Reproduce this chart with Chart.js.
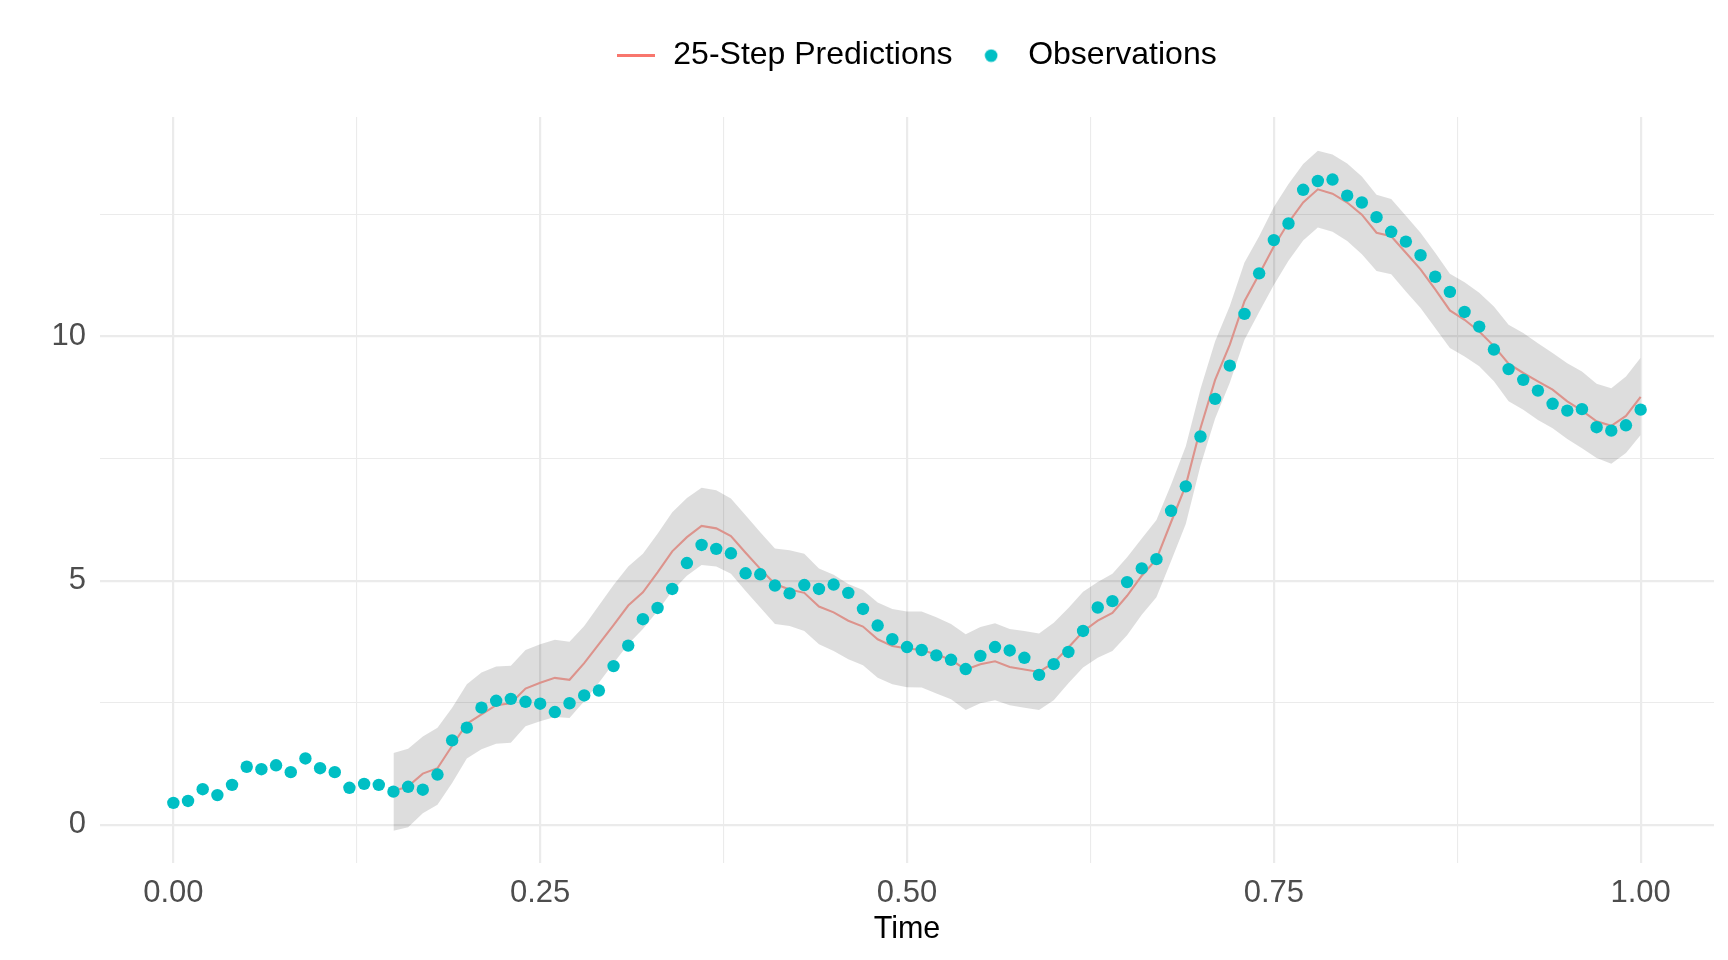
<!DOCTYPE html>
<html>
<head>
<meta charset="utf-8">
<script src="https://cdn.jsdelivr.net/npm/chart.js@4.4.1/dist/chart.umd.min.js"></script>
<style>
  html, body { margin: 0; padding: 0; background: #ffffff; }
  #wrap { width: 1728px; height: 960px; position: relative; }
</style>
</head>
<body>
<div id="wrap"><canvas id="chart" width="1728" height="960"></canvas></div>
<script>
// ---------- data ----------
const obsTime = [
  0.00, 0.01, 0.02, 0.03, 0.04, 0.05, 0.06, 0.07, 0.08, 0.09,
  0.10, 0.11, 0.12, 0.13, 0.14, 0.15, 0.16, 0.17, 0.18, 0.19,
  0.20, 0.21, 0.22, 0.23, 0.24, 0.25, 0.26, 0.27, 0.28, 0.29,
  0.30, 0.31, 0.32, 0.33, 0.34, 0.35, 0.36, 0.37, 0.38, 0.39,
  0.40, 0.41, 0.42, 0.43, 0.44, 0.45, 0.46, 0.47, 0.48, 0.49,
  0.50, 0.51, 0.52, 0.53, 0.54, 0.55, 0.56, 0.57, 0.58, 0.59,
  0.60, 0.61, 0.62, 0.63, 0.64, 0.65, 0.66, 0.67, 0.68, 0.69,
  0.70, 0.71, 0.72, 0.73, 0.74, 0.75, 0.76, 0.77, 0.78, 0.79,
  0.80, 0.81, 0.82, 0.83, 0.84, 0.85, 0.86, 0.87, 0.88, 0.89,
  0.90, 0.91, 0.92, 0.93, 0.94, 0.95, 0.96, 0.97, 0.98, 0.99,
  1.00
];

const observations = [
  0.45, 0.49, 0.73, 0.61, 0.82, 1.19, 1.14, 1.22, 1.08, 1.36,
  1.16, 1.08, 0.76, 0.84, 0.82, 0.68, 0.78, 0.72, 1.03, 1.73,
  1.99, 2.40, 2.54, 2.58, 2.52, 2.48, 2.31, 2.49, 2.65, 2.75,
  3.25, 3.67, 4.21, 4.44, 4.83, 5.36, 5.73, 5.65, 5.56, 5.15,
  5.13, 4.90, 4.74, 4.91, 4.83, 4.92, 4.75, 4.42, 4.08, 3.80,
  3.64, 3.58, 3.47, 3.38, 3.19, 3.46, 3.64, 3.57, 3.42, 3.07,
  3.29, 3.54, 3.97, 4.45, 4.58, 4.97, 5.25, 5.44, 6.43, 6.93,
  7.95, 8.72, 9.40, 10.46, 11.29, 11.97, 12.31, 13.00, 13.18, 13.21,
  12.88, 12.74, 12.44, 12.14, 11.94, 11.66, 11.22, 10.91, 10.50, 10.20,
  9.73, 9.33, 9.11, 8.89, 8.62, 8.48, 8.51, 8.14, 8.07, 8.18,
  8.50
];

// predictions start at t = 0.15
const predTime = obsTime.slice(15);

const predictions = [
  0.69, 0.79, 1.05, 1.16, 1.62,
  2.07, 2.26, 2.45, 2.49, 2.79, 2.91, 3.01, 2.97, 3.31, 3.70,
  4.09, 4.49, 4.76, 5.17, 5.60, 5.89, 6.12, 6.07, 5.91, 5.57,
  5.24, 4.93, 4.82, 4.75, 4.47, 4.35, 4.18, 4.06, 3.80, 3.66,
  3.61, 3.58, 3.49, 3.38, 3.18, 3.29, 3.35, 3.23, 3.18, 3.13,
  3.32, 3.63, 3.96, 4.18, 4.34, 4.69, 5.10, 5.44, 6.20, 6.95,
  8.12, 9.11, 9.83, 10.72, 11.27, 11.84, 12.33, 12.74, 13.01, 12.92,
  12.74, 12.49, 12.12, 12.05, 11.71, 11.37, 10.96, 10.53, 10.34, 10.10,
  9.80, 9.44, 9.25, 9.08, 8.91, 8.67, 8.48, 8.26, 8.17, 8.37,
  8.76
];

const bandUpper = [
  1.47, 1.56, 1.81, 1.99, 2.40,
  2.88, 3.12, 3.24, 3.26, 3.58, 3.70, 3.79, 3.75, 4.07, 4.49,
  4.91, 5.29, 5.55, 5.96, 6.40, 6.69, 6.90, 6.85, 6.68, 6.34,
  5.99, 5.66, 5.62, 5.55, 5.25, 5.12, 4.93, 4.81, 4.55, 4.42,
  4.37, 4.37, 4.25, 4.11, 3.90, 4.05, 4.13, 4.01, 3.97, 3.92,
  4.14, 4.44, 4.77, 4.97, 5.14, 5.48, 5.86, 6.24, 6.97, 7.75,
  8.92, 9.90, 10.62, 11.51, 12.05, 12.65, 13.12, 13.53, 13.80, 13.72,
  13.54, 13.27, 12.90, 12.81, 12.47, 12.12, 11.71, 11.28, 11.11, 10.89,
  10.61, 10.24, 10.07, 9.86, 9.66, 9.45, 9.28, 9.03, 8.94, 9.18,
  9.56
];

const bandLower = [
  -0.12, -0.05, 0.24, 0.41, 0.86,
  1.36, 1.55, 1.66, 1.68, 2.02, 2.12, 2.21, 2.19, 2.53, 2.91,
  3.31, 3.70, 4.01, 4.38, 4.79, 5.10, 5.32, 5.29, 5.14, 4.79,
  4.45, 4.11, 4.07, 3.97, 3.70, 3.56, 3.39, 3.27, 3.01, 2.88,
  2.82, 2.81, 2.69, 2.57, 2.35, 2.49, 2.55, 2.45, 2.40, 2.35,
  2.55, 2.90, 3.22, 3.42, 3.56, 3.88, 4.30, 4.66, 5.40, 6.16,
  7.35, 8.32, 9.05, 9.93, 10.50, 11.05, 11.55, 11.96, 12.23, 12.14,
  11.95, 11.68, 11.34, 11.27, 10.92, 10.58, 10.17, 9.76, 9.59, 9.39,
  9.08, 8.67, 8.50, 8.29, 8.12, 7.90, 7.71, 7.51, 7.39, 7.61,
  7.98
];

// ticks: major (labelled) and minor (grid only)
const xTickValues = [0, 0.125, 0.25, 0.375, 0.5, 0.625, 0.75, 0.875, 1];
const xTickLabels = ['0.00', '', '0.25', '', '0.50', '', '0.75', '', '1.00'];
const yTickValues = [0, 2.5, 5, 7.5, 10, 12.5];
const yTickLabels = ['0', '', '5', '', '10', ''];

const seriesNames = ['25-Step Predictions', 'Observations'];

// ---------- styling ----------
const FONT = "'Liberation Sans', Arial, Helvetica, sans-serif";
const PRED_COLOR = '#F8766D';
const OBS_COLOR = '#00BFC4';
const GRID_COLOR = '#EBEBEB';

function toXY(xs, ys) { return xs.map((x, i) => ({ x: x, y: ys[i] })); }

// legend key icons
function makeLineIcon() {
  const c = document.createElement('canvas');
  c.width = 38; c.height = 3;
  const g = c.getContext('2d');
  g.fillStyle = PRED_COLOR;
  g.fillRect(0, 0, 38, 3);
  return c;
}
function makeDotIcon() {
  const c = document.createElement('canvas');
  c.width = 14; c.height = 14;
  const g = c.getContext('2d');
  g.fillStyle = OBS_COLOR;
  g.beginPath(); g.arc(7, 7, 6.3, 0, Math.PI * 2); g.fill();
  return c;
}
const legendIcons = [makeLineIcon(), makeDotIcon()];

// extra space below the legend, and a small horizontal nudge
const legendSpacer = {
  id: 'legendSpacer',
  beforeUpdate(chart) {
    const lg = chart.legend;
    if (lg && !lg._spacerPatched) {
      const orig = lg.fit;
      lg.fit = function () { orig.call(this); this.height += 35.4; };
      lg._spacerPatched = true;
    }
  },
  afterLayout(chart) {
    const lg = chart.legend;
    if (lg) { lg.left += 9; lg.right += 9; }
  }
};

const isMajor = (v, step) => Math.abs(v / step - Math.round(v / step)) < 1e-6;

new Chart(document.getElementById('chart'), {
  type: 'line',
  data: {
    datasets: [
      {
        label: seriesNames[0],
        data: toXY(predTime, predictions),
        borderColor: '#DC938C',
        borderWidth: 2.1,
        pointRadius: 0,
        fill: false,
        tension: 0,
        order: 1
      },
      {
        label: seriesNames[1],
        data: toXY(obsTime, observations),
        showLine: false,
        pointRadius: 6.2,
        pointBackgroundColor: OBS_COLOR,
        pointBorderWidth: 0,
        borderColor: OBS_COLOR,
        order: 0
      },
      {
        label: 'lower',
        data: toXY(predTime, bandLower),
        borderWidth: 0,
        borderColor: 'rgba(0,0,0,0)',
        pointRadius: 0,
        fill: false,
        order: 3
      },
      {
        label: 'upper',
        data: toXY(predTime, bandUpper),
        borderWidth: 0,
        borderColor: 'rgba(0,0,0,0)',
        backgroundColor: 'rgba(0,0,0,0.135)',
        pointRadius: 0,
        fill: 2,
        order: 2
      }
    ]
  },
  options: {
    responsive: false,
    animation: false,
    devicePixelRatio: 1,
    events: [],
    layout: { padding: { top: 22, right: 14, left: 0, bottom: 0 } },
    plugins: {
      tooltip: { enabled: false },
      legend: {
        display: true,
        position: 'top',
        align: 'center',
        fullSize: false,
        labels: {
          usePointStyle: true,
          pointStyleWidth: 42,
          color: '#000000',
          padding: 17.6,
          font: { family: FONT, size: 32 },
          filter: (item) => item.datasetIndex < 2,
          sort: (a, b) => a.datasetIndex - b.datasetIndex,
          generateLabels(chart) {
            const items = Chart.defaults.plugins.legend.labels.generateLabels(chart);
            items.forEach(it => {
              if (it.datasetIndex < 2) it.pointStyle = legendIcons[it.datasetIndex];
            });
            return items;
          }
        }
      }
    },
    scales: {
      x: {
        type: 'linear',
        min: -0.05,
        max: 1.05,
        afterBuildTicks(scale) { scale.ticks = xTickValues.map(v => ({ value: v })); },
        afterFit(scale) { scale.height = 97; },
        border: { display: false },
        grid: {
          drawTicks: false,
          color: GRID_COLOR,
          lineWidth: (ctx) => (ctx.tick && isMajor(ctx.tick.value, 0.25)) ? 2.2 : 1.1
        },
        ticks: {
          autoSkip: false,
          maxRotation: 0,
          padding: 12,
          color: '#4D4D4D',
          font: { family: FONT, size: 31 },
          callback: (value, index) => xTickLabels[index]
        },
        title: {
          display: true,
          text: 'Time',
          color: '#000000',
          font: { family: FONT, size: 30.5 },
          padding: { top: 0, bottom: 12 }
        }
      },
      y: {
        type: 'linear',
        min: -0.78,
        max: 14.49,
        afterBuildTicks(scale) { scale.ticks = yTickValues.map(v => ({ value: v })); },
        afterFit(scale) { scale.width = 100; },
        border: { display: false },
        grid: {
          drawTicks: false,
          color: GRID_COLOR,
          lineWidth: (ctx) => (ctx.tick && isMajor(ctx.tick.value, 5)) ? 2.2 : 1.1
        },
        ticks: {
          padding: 14,
          color: '#4D4D4D',
          font: { family: FONT, size: 31 },
          callback: (value, index) => yTickLabels[index]
        }
      }
    }
  },
  plugins: [legendSpacer]
});
</script>
</body>
</html>
